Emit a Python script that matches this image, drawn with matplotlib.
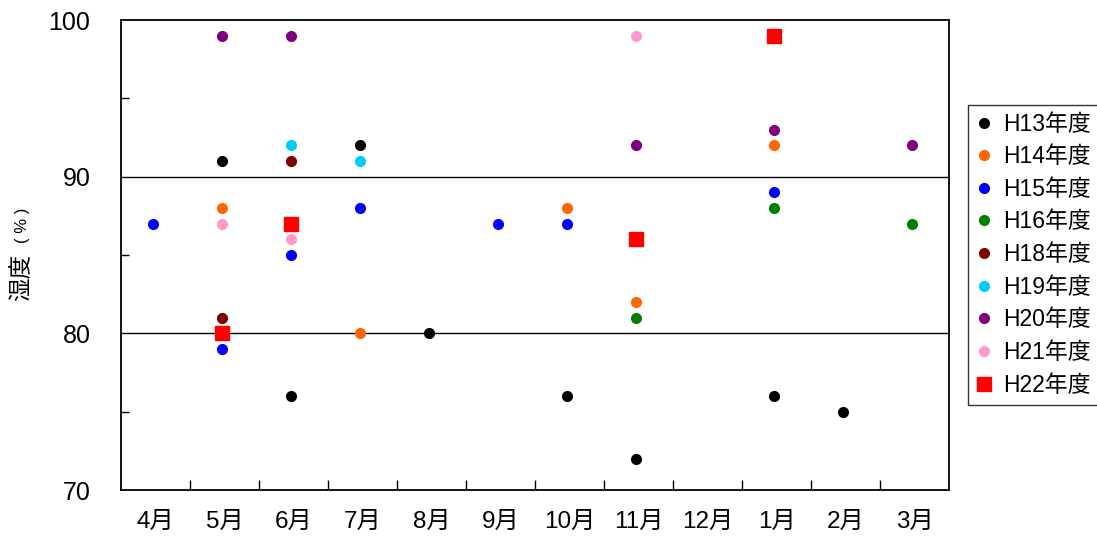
import numpy as np
import matplotlib
matplotlib.use("Agg")
import matplotlib.pyplot as plt
from matplotlib.ticker import FixedLocator

plt.rcParams['font.family'] = ['Liberation Sans', 'Noto Sans CJK JP', 'DejaVu Sans']

# months of the fiscal year (April start)
months = ["4月", "5月", "6月", "7月", "8月", "9月", "10月", "11月", "12月", "1月", "2月", "3月"]

# humidity readings per fiscal year: (month, value)
h13_months = ["5月", "6月", "7月", "8月", "10月", "11月", "1月", "2月"]
h13_values = [91, 76, 92, 80, 76, 72, 76, 75]
h14_months = ["5月", "7月", "10月", "11月", "1月"]
h14_values = [88, 80, 88, 82, 92]
h15_months = ["4月", "5月", "6月", "7月", "9月", "10月", "1月"]
h15_values = [87, 79, 85, 88, 87, 87, 89]
h16_months = ["11月", "1月", "3月"]
h16_values = [81, 88, 87]
h18_months = ["5月", "6月"]
h18_values = [81, 91]
h19_months = ["6月", "7月"]
h19_values = [92, 91]
h20_months = ["5月", "6月", "11月", "1月", "3月"]
h20_values = [99, 99, 92, 93, 92]
h21_months = ["5月", "6月", "11月"]
h21_values = [87, 86, 99]
h22_months = ["5月", "6月", "11月", "1月"]
h22_values = [80, 87, 86, 99]

series = [
    ("H13年度", h13_months, h13_values, "#000000", "o", 7),
    ("H14年度", h14_months, h14_values, "#FF6600", "o", 7),
    ("H15年度", h15_months, h15_values, "#0000FF", "o", 7),
    ("H16年度", h16_months, h16_values, "#008000", "o", 7),
    ("H18年度", h18_months, h18_values, "#800000", "o", 7),
    ("H19年度", h19_months, h19_values, "#00CCFF", "o", 7),
    ("H20年度", h20_months, h20_values, "#800080", "o", 7),
    ("H21年度", h21_months, h21_values, "#FF99CC", "o", 7),
    ("H22年度", h22_months, h22_values, "#FF0000", "s", 10),
]

fig = plt.figure(figsize=(10.97, 5.45), dpi=100)
ax = fig.add_axes([121 / 1097, 55 / 545, 828 / 1097, 470 / 545])

for label, m, v, color, marker, size in series:
    x = [months.index(k) - 0.03 for k in m]
    ax.plot(x, v, linestyle="none", marker=marker, markersize=size,
            color=color, markeredgecolor=color, label=label, zorder=3)

ax.set_xlim(-0.5, len(months) - 0.5)
ax.set_ylim(70, 100)

ax.set_xticks(np.arange(len(months)))
ax.set_xticklabels(months, fontsize=17.5)
ax.xaxis.set_minor_locator(FixedLocator(np.arange(0.5, len(months) - 1, 1)))
ax.tick_params(axis="x", which="major", length=0, pad=15)
ax.tick_params(axis="x", which="minor", direction="in", length=7, width=1)

ax.set_yticks([70, 80, 90, 100])
ax.set_yticklabels(["70", "80", "90", "100"], fontsize=18)
ax.yaxis.set_minor_locator(FixedLocator([75, 85, 95]))
ax.tick_params(axis="y", which="major", length=0, pad=22)
ax.tick_params(axis="y", which="minor", direction="in", length=6, width=1)

for yv in [80, 90]:
    ax.axhline(yv, color="black", linewidth=1, zorder=1)

for s in ax.spines.values():
    s.set_linewidth(1.3)

# y label: large "湿度" with a smaller unit above it
fig.text(22 / 1097, (545 - 301) / 545, "湿度", rotation=90, fontsize=17,
         ha="center", va="bottom")
fig.text(23 / 1097, (545 - 243) / 545, "( % )", rotation=90, fontsize=12,
         ha="center", va="bottom")

leg = ax.legend(loc="upper left", bbox_to_anchor=(1.0225, 0.82), fontsize=16.5,
                frameon=True, fancybox=False, edgecolor="black",
                handlelength=0.7, handletextpad=0.5, borderpad=0.35,
                labelspacing=0.42, borderaxespad=0)
leg.get_frame().set_linewidth(1)

fig.savefig("out.png", dpi=100)
